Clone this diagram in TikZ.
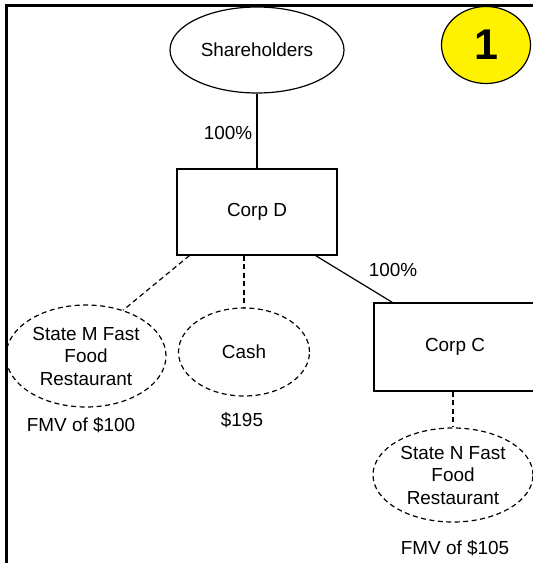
\documentclass[tikz,border=0pt]{standalone}
\usepackage{fontspec}
\setmainfont{Liberation Sans}
\usetikzlibrary{shapes.geometric,calc}
\tikzset{
  lbl/.style={font=\fontsize{18.9}{22.5}\selectfont, inner sep=0pt, align=center},
  corp/.style={lbl, draw, line width=1.2pt, rectangle},
  owner/.style={lbl, draw, line width=1.2pt, ellipse},
  asset/.style={lbl, draw, line width=1.2pt, ellipse, dash pattern=on 5pt off 3.5pt},
  own/.style={line width=1.2pt},
  hold/.style={line width=1.2pt, dash pattern=on 5pt off 3.5pt},
}
\begin{document}
\begin{tikzpicture}[x=1pt,y=-1pt]
\useasboundingbox (0,0) rectangle (533,563);
\fill[white] (0,0) rectangle (533,563);
% frame
\draw[line width=2.6pt] (6.7,570) -- (6.7,5.3) -- (540,5.3);
% badge
\node[draw, line width=1.2pt, fill=yellow, ellipse, minimum width=89pt, minimum height=77pt, inner sep=0pt,
      font=\fontsize{43}{43}\selectfont\bfseries] (badge) at (486,45) {1};
% nodes
\node[owner, minimum width=174pt, minimum height=86pt] (S) at (257,50) {Shareholders};
\node[corp, minimum width=160pt, minimum height=86pt] (D) at (257,212) {Corp D};
\node[corp, minimum width=162pt, minimum height=88pt] (C) at (455,347) {Corp C};
\node[asset, minimum width=160pt, minimum height=102pt] (M) at (86,356) {State M Fast\\Food\\Restaurant};
\node[asset, minimum width=131pt, minimum height=88pt] (K) at (244,352) {Cash};
\node[asset, minimum width=160pt, minimum height=94pt] (N) at (453,475) {State N Fast\\Food\\Restaurant};
% labels
\node[lbl] (p1) at (228,133) {100\%};
\node[lbl] (p2) at (393,270) {100\%};
\node[lbl] (vm) at (81,425) {FMV of \$100};
\node[lbl] (vk) at (242,420) {\$195};
\node[lbl] (vn) at (455,548) {FMV of \$105};
% connectors
\draw[own] (S.south) -- (D.north);
\draw[own] ($(D.south east)+(-22,0)$) -- ($(C.north west)+(19,0)$);
\draw[hold] ($(D.south west)+(13,0)$) -- (M.51.6);
\draw[hold] (D.south -| K.north) -- (K.north);
\draw[hold] (C.south -| N.north) -- (N.north);
\end{tikzpicture}
\end{document}
